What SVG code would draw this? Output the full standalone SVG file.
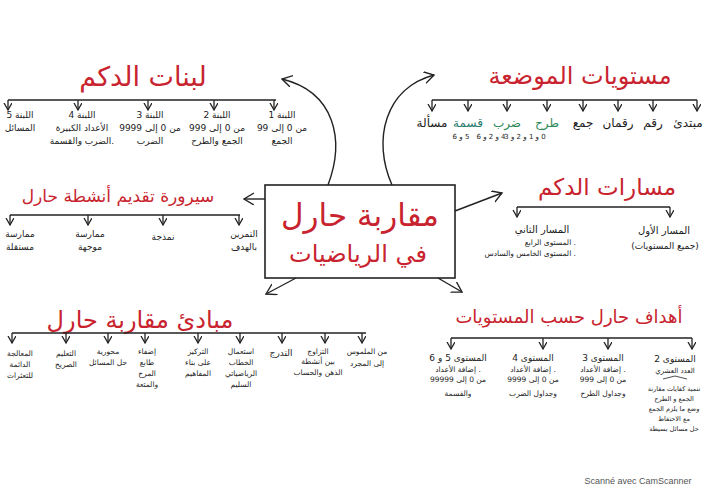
<svg xmlns="http://www.w3.org/2000/svg" width="707" height="500" viewBox="0 0 707 500">
<defs>
<marker id="ah" markerWidth="10" markerHeight="10" refX="7" refY="4" orient="auto" markerUnits="userSpaceOnUse"><path d="M0,0 L7,4 L0,8" fill="none" stroke="#222" stroke-width="1.3"/></marker>
<marker id="ahb" markerWidth="14" markerHeight="14" refX="10" refY="6" orient="auto" markerUnits="userSpaceOnUse"><path d="M0,0 L10,6 L0,12" fill="none" stroke="#222" stroke-width="1.4"/></marker>
</defs>
<style>
text{font-family:"DejaVu Sans",sans-serif;direction:rtl;unicode-bidi:embed;text-anchor:middle;fill:#1c1c1c}
.t{fill:#c8232e;font-size:24px}
.i{font-size:9px}
.s{font-size:7.5px}
.g{fill:#2f8a5a}
.bar{fill:none;stroke:#222;stroke-width:1.6}
.dn{stroke:#222;stroke-width:1.3;marker-end:url(#ah)}
.cn{fill:none;stroke:#222;stroke-width:1.4;marker-end:url(#ahb)}
</style>
<rect width="707" height="500" fill="#fff"/>

<g id="connectors">
<path class="cn" d="M328,185 C345,140 335,92 282,79"/>
<path class="cn" d="M392,185 C372,140 385,88 434,75"/>
<path class="cn" d="M265,199 L244,199"/>
<path class="cn" d="M455,211 L502,193"/>
<path class="cn" d="M296,278 L266,294"/>
<path class="cn" d="M438,278 L462,292"/>
</g>

<g id="center">
<rect x="265" y="185" width="190" height="93" fill="none" stroke="#222" stroke-width="1.6"/>
<text class="t" x="360" y="226" style="font-size:31px">مقاربة حارل</text>
<text class="t" x="358" y="262" style="font-size:24px">في الرياضيات</text>
</g>

<g id="labinat">
<text class="t" x="143" y="86" style="font-size:27px">لبنات الدكم</text>
<path class="bar" d="M8,100 L276,100"/>
<line class="dn" x1="8" y1="100" x2="8" y2="110"/>
<line class="dn" x1="78" y1="100" x2="78" y2="110"/>
<line class="dn" x1="148" y1="100" x2="148" y2="110"/>
<line class="dn" x1="214" y1="100" x2="214" y2="110"/>
<line class="dn" x1="274" y1="100" x2="274" y2="110"/>
<text class="i" x="282" y="118">&#x200F;اللبنة 1&#x200F;</text>
<text class="i" x="282" y="131">&#x200F;من 0 إلى 99&#x200F;</text>
<text class="i" x="282" y="144">الجمع</text>
<text class="i" x="217" y="118">&#x200F;اللبنة 2&#x200F;</text>
<text class="i" x="217" y="131">&#x200F;من 0 إلى 999&#x200F;</text>
<text class="i" x="217" y="144">الجمع والطرح</text>
<text class="i" x="150" y="118">&#x200F;اللبنة 3&#x200F;</text>
<text class="i" x="150" y="131">&#x200F;من 0 إلى 9999&#x200F;</text>
<text class="i" x="150" y="144">الضرب</text>
<text class="i" x="82" y="118">&#x200F;اللبنة 4&#x200F;</text>
<text class="i" x="82" y="131">الأعداد الكبيرة</text>
<text class="i" x="82" y="144">&#x200F;.الضرب والقسمة&#x200F;</text>
<text class="i" x="20" y="118">&#x200F;اللبنة 5&#x200F;</text>
<text class="i" x="20" y="131">المسائل</text>
</g>

<g id="mustawayat">
<text class="t" x="580" y="84">مستويات الموضعة</text>
<path class="bar" d="M432,100 L697,100"/>
<line class="dn" x1="432" y1="100" x2="432" y2="111"/>
<line class="dn" x1="468" y1="100" x2="468" y2="111"/>
<line class="dn" x1="507" y1="100" x2="507" y2="111"/>
<line class="dn" x1="547" y1="100" x2="547" y2="111"/>
<line class="dn" x1="583" y1="100" x2="583" y2="111"/>
<line class="dn" x1="618" y1="100" x2="618" y2="111"/>
<line class="dn" x1="653" y1="100" x2="653" y2="111"/>
<line class="dn" x1="697" y1="100" x2="697" y2="111"/>
<text x="688" y="127" style="font-size:12px">مبتدئ</text>
<text x="653" y="127" style="font-size:12px">رقم</text>
<text x="618" y="127" style="font-size:12px">رقمان</text>
<text x="583" y="127" style="font-size:12px">جمع</text>
<text class="g" x="547" y="127" style="font-size:12px">طرح</text>
<text class="g" x="507" y="127" style="font-size:12px">ضرب</text>
<text x="468" y="127" style="font-size:12px;fill:#1f7a6e">قسمة</text>
<text x="432" y="127" style="font-size:12px">مسألة</text>
<text x="525" y="139" style="font-size:7px">&#x200F;0 و 1 و 2 و 3&#x200F;</text>
<text x="491" y="139" style="font-size:7px">&#x200F;4 و 2 و 6&#x200F;</text>
<text x="461" y="139" style="font-size:7px">&#x200F;5 و 6&#x200F;</text>
</g>

<g id="sayrura">
<text class="t" x="118" y="202" style="font-size:17px">سيرورة تقديم أنشطة حارل</text>
<path class="bar" d="M10,215 L240,215"/>
<line class="dn" x1="10" y1="215" x2="10" y2="225"/>
<line class="dn" x1="88" y1="215" x2="88" y2="225"/>
<line class="dn" x1="163" y1="215" x2="163" y2="225"/>
<line class="dn" x1="239" y1="215" x2="239" y2="225"/>
<text class="i" x="244" y="237">التمرين</text>
<text class="i" x="244" y="250">بالهدف</text>
<text class="i" x="163" y="240">نمذجة</text>
<text class="i" x="90" y="237">ممارسة</text>
<text class="i" x="90" y="250">موجهة</text>
<text class="i" x="20" y="237">ممارسة</text>
<text class="i" x="20" y="250">مستقلة</text>
</g>

<g id="masarat">
<text class="t" x="607" y="195" style="font-size:23px">مسارات الدكم</text>
<path class="bar" d="M517,207 L670,207"/>
<line class="dn" x1="517" y1="207" x2="517" y2="217"/>
<line class="dn" x1="670" y1="207" x2="670" y2="217"/>
<text x="664" y="234" style="font-size:10px">المسار الأول</text>
<text x="665" y="249" style="font-size:9px">&#x200F;(جميع المستويات)&#x200F;</text>
<text x="542" y="233" style="font-size:10px">المسار الثاني</text>
<text class="s" x="576" y="245" style="text-anchor:start">&#x200F;. المستوى الرابع&#x200F;</text>
<text class="s" x="576" y="256" style="text-anchor:start">&#x200F;. المستوى الخامس والسادس&#x200F;</text>
</g>

<g id="mabadi">
<text class="t" x="140" y="328" style="font-size:24px">مبادئ مقاربة حارل</text>
<path class="bar" d="M12,333 L366,333"/>
<line class="dn" x1="12" y1="333" x2="12" y2="343"/>
<line class="dn" x1="66" y1="333" x2="66" y2="343"/>
<line class="dn" x1="108" y1="333" x2="108" y2="343"/>
<line class="dn" x1="145" y1="333" x2="145" y2="343"/>
<line class="dn" x1="198" y1="333" x2="198" y2="343"/>
<line class="dn" x1="240" y1="333" x2="240" y2="343"/>
<line class="dn" x1="282" y1="333" x2="282" y2="343"/>
<line class="dn" x1="325" y1="333" x2="325" y2="343"/>
<line class="dn" x1="362" y1="333" x2="362" y2="343"/>
<text class="s" x="20" y="356">المعالجة</text>
<text class="s" x="20" y="367">الدائمة</text>
<text class="s" x="20" y="378">للتعثرات</text>
<text class="s" x="66" y="356">التعليم</text>
<text class="s" x="66" y="367">الصريح</text>
<text class="s" x="108" y="354">محورية</text>
<text class="s" x="108" y="365">حل المسائل</text>
<text class="s" x="147" y="354">إضفاء</text>
<text class="s" x="147" y="365">طابع</text>
<text class="s" x="147" y="376">المرح</text>
<text class="s" x="147" y="387">والمتعة</text>
<text class="s" x="198" y="354">التركيز</text>
<text class="s" x="198" y="365">على بناء</text>
<text class="s" x="198" y="376">المفاهيم</text>
<text class="s" x="241" y="354">استعمال</text>
<text class="s" x="241" y="365">الخطاب</text>
<text class="s" x="241" y="376">الرياضياتي</text>
<text class="s" x="241" y="387">السليم</text>
<text class="i" x="281" y="356">التدرج</text>
<text class="s" x="318" y="354">التزاوج</text>
<text class="s" x="318" y="364">بين أنشطة</text>
<text class="s" x="318" y="375">الذهن والحساب</text>
<text class="s" x="367" y="354">من الملموس</text>
<text class="s" x="367" y="366">إلى المجرد</text>
</g>

<g id="ahdaf">
<text class="t" x="569" y="323" style="font-size:18px">أهداف حارل حسب المستويات</text>
<path class="bar" d="M451,338 L692,338"/>
<line class="dn" x1="451" y1="338" x2="451" y2="349"/>
<line class="dn" x1="543" y1="338" x2="543" y2="349"/>
<line class="dn" x1="608" y1="338" x2="608" y2="349"/>
<line class="dn" x1="692" y1="338" x2="692" y2="349"/>
<text class="i" x="458" y="361">&#x200F;المستوى 5 و 6&#x200F;</text>
<text class="s" x="458" y="372">&#x200F;. إضافة الأعداد&#x200F;</text>
<text class="s" x="458" y="382">&#x200F;من 0 إلى 99999&#x200F;</text>
<text class="s" x="458" y="396">والقسمة</text>
<text class="i" x="533" y="361">&#x200F;المستوى 4&#x200F;</text>
<text class="s" x="533" y="372">&#x200F;. إضافة الأعداد&#x200F;</text>
<text class="s" x="533" y="382">&#x200F;من 0 إلى 9999&#x200F;</text>
<text class="s" x="533" y="396">وجداول الضرب</text>
<text class="i" x="603" y="361">&#x200F;المستوى 3&#x200F;</text>
<text class="s" x="603" y="372">&#x200F;. إضافة الأعداد&#x200F;</text>
<text class="s" x="603" y="382">&#x200F;من 0 إلى 999&#x200F;</text>
<text class="s" x="603" y="396">وجداول الطرح</text>
<text class="i" x="675" y="362">&#x200F;المستوى 2&#x200F;</text>
<text x="675" y="373" style="font-size:7px">العدد العشري</text>
<path d="M663,379 L675,376 L687,379" fill="none" stroke="#222" stroke-width="0.8"/>
<text x="674" y="391" style="font-size:6.5px">تنمية كفايات مقارنة</text>
<text x="674" y="401" style="font-size:6.5px">الجمع و الطرح</text>
<text x="674" y="411" style="font-size:6.5px">وضع ما يلزم الجمع</text>
<text x="674" y="421" style="font-size:6.5px">مع الاحتفاظ</text>
<text x="674" y="431" style="font-size:6.5px">حل مسائل بسيطة</text>
</g>

<text x="638" y="484" style="font-family:'Liberation Sans',sans-serif;direction:ltr;font-size:9px;fill:#555">Scanné avec CamScanner</text>
</svg>
